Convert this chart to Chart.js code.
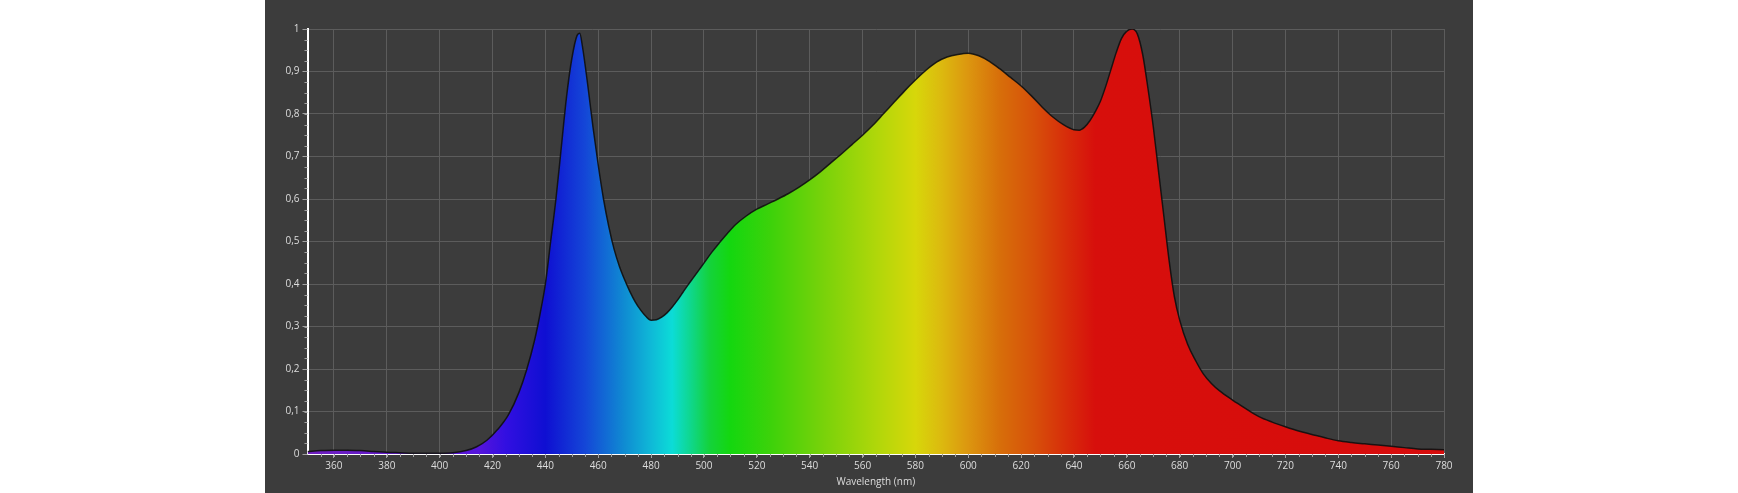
<!DOCTYPE html>
<html>
<head>
<meta charset="utf-8">
<script src="https://cdn.jsdelivr.net/npm/chart.js@4/dist/chart.umd.min.js"></script>
<style>
  html, body { margin: 0; padding: 0; background: #ffffff; }
  #wrap { position: absolute; left: 265px; top: 0; width: 1208px; height: 493px; background: #3c3c3c; }
</style>
</head>
<body>
<div id="wrap"><canvas id="chart" width="1208" height="493"></canvas></div>
<script>
const wavelengths = [
  350, 355, 360, 365, 370, 375, 380, 385, 390, 395, 400, 405, 410, 414, 418, 422, 426, 430, 433, 436,
  438, 440, 442, 444, 446, 448, 450, 452, 453, 454, 456, 458, 460, 462, 464, 466, 468, 470, 472, 474,
  476, 478, 480, 482, 484, 486, 488, 490, 492, 494, 496, 498, 500, 503, 506, 509, 512, 516, 520, 524,
  528, 532, 536, 540, 544, 548, 552, 556, 560, 564, 568, 572, 576, 580, 584, 588, 592, 596, 600, 604,
  608, 612, 616, 620, 624, 628, 632, 636, 640, 642, 644, 646, 648, 650, 652, 654, 656, 658, 660, 662,
  664, 666, 668, 670, 672, 674, 676, 678, 680, 683, 686, 689, 692, 695, 700, 705, 710, 715, 720, 725,
  730, 735, 740, 745, 750, 755, 760, 765, 770, 775, 780
];
const intensity = [
  0.006, 0.008, 0.009, 0.009, 0.008, 0.006, 0.004, 0.003, 0.002, 0.002, 0.002, 0.003, 0.008, 0.017, 0.033, 0.058, 0.092, 0.145, 0.20, 0.27,
  0.33, 0.40, 0.50, 0.60, 0.72, 0.84, 0.93, 0.985, 0.99, 0.96, 0.87, 0.77, 0.68, 0.60, 0.535, 0.482, 0.442, 0.41, 0.382, 0.358,
  0.339, 0.324, 0.315, 0.316, 0.322, 0.332, 0.346, 0.362, 0.38, 0.398, 0.415, 0.432, 0.449, 0.475, 0.498, 0.52, 0.54, 0.56, 0.576, 0.588,
  0.600, 0.613, 0.628, 0.645, 0.664, 0.685, 0.706, 0.728, 0.75, 0.774, 0.801, 0.828, 0.855, 0.88, 0.903, 0.922, 0.934, 0.94, 0.943, 0.937,
  0.924, 0.906, 0.886, 0.866, 0.842, 0.816, 0.793, 0.775, 0.763, 0.762, 0.769, 0.784, 0.805, 0.83, 0.865, 0.905, 0.945, 0.978, 0.995, 1.0,
  0.988, 0.94, 0.86, 0.77, 0.665, 0.56, 0.455, 0.37, 0.315, 0.258, 0.22, 0.188, 0.166, 0.149, 0.127, 0.107, 0.088, 0.075, 0.064, 0.054,
  0.046, 0.038, 0.031, 0.027, 0.024, 0.021, 0.018, 0.015, 0.012, 0.011, 0.010
];
const xTickValues = [360, 380, 400, 420, 440, 460, 480, 500, 520, 540, 560, 580, 600, 620, 640, 660, 680, 700, 720, 740, 760, 780];

// colour of the fill at each wavelength
const spectrumNm = [350, 415, 425, 440, 455, 470, 480, 488, 495, 502, 510, 525, 545, 565, 580, 590, 600, 612, 625, 637, 648, 780];
const spectrumColors = [
  "rgb(110,30,190)", "rgb(85,20,220)", "rgb(50,15,225)", "rgb(15,15,210)", "rgb(20,70,215)", "rgb(15,140,210)",
  "rgb(15,185,215)", "rgb(12,220,215)", "rgb(15,215,140)", "rgb(20,210,60)", "rgb(20,215,15)", "rgb(60,210,10)",
  "rgb(120,210,10)", "rgb(175,215,10)", "rgb(215,215,10)", "rgb(220,185,15)", "rgb(220,150,15)", "rgb(215,110,10)",
  "rgb(215,80,10)", "rgb(215,45,10)", "rgb(215,15,12)", "rgb(215,12,12)"
];

function spectrumFill(ctx) {
  const chart = ctx.chart;
  const area = chart.chartArea;
  if (!area) return "rgb(215,12,12)";
  const x = chart.scales.x;
  const g = chart.ctx.createLinearGradient(area.left, 0, area.right, 0);
  spectrumNm.forEach((nm, i) => {
    let t = (x.getPixelForValue(nm) - area.left) / (area.right - area.left);
    g.addColorStop(Math.min(1, Math.max(0, t)), spectrumColors[i]);
  });
  return g;
}

const minorTicks = {
  id: "minorTicks",
  afterDraw(chart) {
    const c = chart.ctx;
    const x = chart.scales.x, y = chart.scales.y;
    c.save();
    c.strokeStyle = "#a0a0a0";
    c.lineWidth = 1;
    c.beginPath();
    for (let v = 0; v <= 1.0001; v += 0.025) {
      const py = Math.round(y.getPixelForValue(v)) + 0.5;
      c.moveTo(x.left - 3, py);
      c.lineTo(x.left, py);
    }
    for (let nm = 355; nm <= 780; nm += 5) {
      const px = Math.round(x.getPixelForValue(nm)) + 0.5;
      c.moveTo(px, y.bottom);
      c.lineTo(px, y.bottom + 3);
    }
    c.stroke();
    c.restore();
  }
};

new Chart(document.getElementById("chart"), {
  type: "line",
  data: {
    datasets: [{
      data: wavelengths.map((w, i) => ({ x: w, y: intensity[i] })),
      borderColor: "rgba(15,15,15,0.9)",
      borderWidth: 1.5,
      backgroundColor: spectrumFill,
      fill: "origin",
      pointRadius: 0,
      cubicInterpolationMode: "monotone"
    }]
  },
  options: {
    responsive: false,
    animation: false,
    layout: { padding: { top: 29, right: 29, left: 0, bottom: 0 } },
    plugins: { legend: { display: false }, tooltip: { enabled: false } },
    scales: {
      x: {
        type: "linear",
        min: 350,
        max: 780,
        afterBuildTicks: s => { s.ticks = xTickValues.map(v => ({ value: v })); },
        afterFit: s => { s.height = 39; },
        border: { color: "#ffffff", width: 2 },
        grid: { color: "#5c5c5c", lineWidth: 1, tickColor: "#a0a0a0", tickLength: 4 },
        ticks: { color: "#dddddd", font: { family: "Open Sans", size: 10 }, padding: 2, maxRotation: 0 },
        title: { display: true, text: "Wavelength (nm)", color: "#dddddd", font: { family: "Open Sans", size: 10 }, padding: { top: 0, bottom: 5 } }
      },
      y: {
        min: 0,
        max: 1,
        afterFit: s => { s.width = 42.5; },
        border: { color: "#ffffff", width: 2 },
        grid: { color: "#5c5c5c", lineWidth: 1, tickColor: "#a0a0a0", tickLength: 5 },
        ticks: {
          stepSize: 0.1,
          color: "#dddddd",
          font: { family: "Open Sans", size: 10 },
          padding: 3,
          callback: v => (v === 0 ? "0" : v === 1 ? "1" : v.toFixed(1).replace(".", ","))
        }
      }
    }
  },
  plugins: [minorTicks]
});
</script>
</body>
</html>
